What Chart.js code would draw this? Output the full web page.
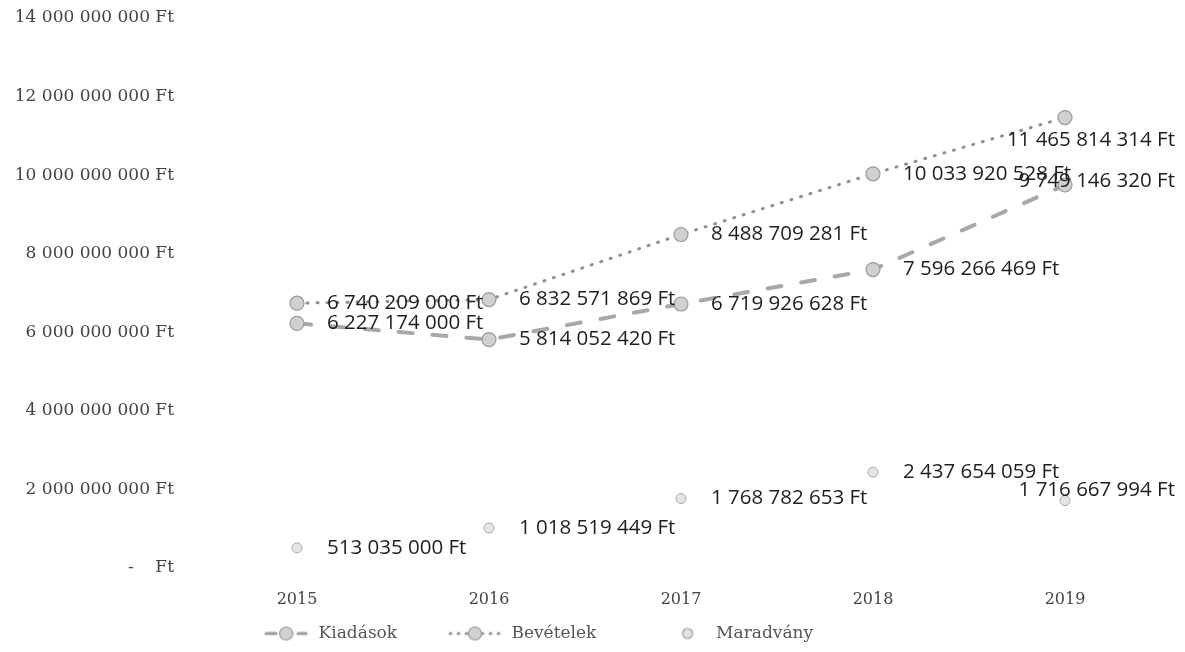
<!DOCTYPE html>
<html>
<head>
<meta charset="utf-8">
<script src="https://cdn.jsdelivr.net/npm/chart.js@4"></script>
<style>
  html, body { margin: 0; padding: 0; background: #fff; }
  #wrap { width: 1185px; height: 652px; }
</style>
</head>
<body>
<div id="wrap"><canvas id="myChart"></canvas></div>
<script>
// Years on the x axis
const years = ['2015', '2016', '2017', '2018', '2019'];

// Series values (Ft)
const kiadasok = [6227174000, 5814052420, 6719926628, 7596266469, 9749146320];
const bevetelek = [6740209000, 6832571869, 8488709281, 10033920528, 11465814314];
const maradvany = [513035000, 1018519449, 1768782653, 2437654059, 1716667994];

// Y axis ticks
const yTicks = [0, 2000000000, 4000000000, 6000000000, 8000000000, 10000000000, 12000000000, 14000000000];

// Format a number with space as thousands separator
function formatFt(v) {
    if (v === 0) return '-    Ft';
    return String(Math.round(v)).replace(/\B(?=(\d{3})+(?!\d))/g, ' ') + ' Ft';
}

// Small canvases used as legend symbols
function legendSymbol(kind) {
    const c = document.createElement('canvas');
    c.width = 56;
    c.height = 16;
    const g = c.getContext('2d');
    const mid = c.width / 2;
    g.strokeStyle = '#999';
    g.lineWidth = 3;
    g.lineCap = 'round';
    if (kind === 'dash') {
        g.setLineDash([10, 6]);
        g.beginPath(); g.moveTo(12, 8); g.lineTo(c.width - 4, 8); g.stroke();
    } else if (kind === 'dots') {
        g.setLineDash([1, 7]);
        g.beginPath(); g.moveTo(3, 8); g.lineTo(c.width - 2, 8); g.stroke();
    }
    g.setLineDash([]);
    g.lineWidth = 1.2;
    g.fillStyle = kind === 'dot' ? '#e2e2e2' : '#d2d2d2';
    g.strokeStyle = '#999';
    const cx = kind === 'dash' ? 32 : (kind === 'dot' ? mid + 8 : mid);
    g.beginPath(); g.arc(cx, 8, kind === 'dot' ? 5 : 6.5, 0, Math.PI * 2); g.fill(); g.stroke();
    return c;
}

// Value labels to the right of every point
const valueLabels = {
    id: 'valueLabels',
    afterDatasetsDraw(chart, args, opts) {
        const ctx = chart.ctx;
        ctx.save();
        ctx.font = opts.font;
        ctx.fillStyle = opts.color;
        ctx.textBaseline = 'middle';
        chart.data.datasets.forEach((ds, i) => {
            const meta = chart.getDatasetMeta(i);
            meta.data.forEach((pt, j) => {
                const text = formatFt(ds.data[j]);
                const w = ctx.measureText(text).width;
                let x = pt.x + opts.offsetX;
                let y = pt.y;
                if (x + w > chart.width - opts.edge) {
                    x = chart.width - opts.edge - w;
                    y += opts.edgeNudge[i];
                }
                ctx.fillText(text, x, y);
            });
        });
        ctx.restore();
    }
};

// Move the legend a little to the left, as in the original
const legendShift = {
    id: 'legendShift',
    afterLayout(chart, args, opts) {
        if (chart.legend) {
            chart.legend.left -= opts.dx;
            chart.legend.right -= opts.dx;
        }
    }
};

const serif = "'DejaVu Serif', serif";

const myChart = document.getElementById('myChart');

let lineChart = new Chart(myChart, {
    type: 'line',
    data: {
        labels: years,
        datasets: [{
            label: 'Kiadások',
            data: kiadasok,
            borderColor: '#a8a8a8',
            borderWidth: 4,
            borderDash: [14, 20],
            borderCapStyle: 'round',
            pointRadius: 7,
            pointBackgroundColor: '#d0d0d0',
            pointBorderColor: '#9a9a9a',
            pointBorderWidth: 1.2,
            tension: 0
        }, {
            label: 'Bevételek',
            data: bevetelek,
            borderColor: '#8f8f8f',
            borderWidth: 3,
            borderDash: [1, 9],
            borderCapStyle: 'round',
            pointRadius: 7,
            pointBackgroundColor: '#d0d0d0',
            pointBorderColor: '#9a9a9a',
            pointBorderWidth: 1.2,
            tension: 0
        }, {
            label: 'Maradvány',
            data: maradvany,
            showLine: false,
            pointRadius: 5,
            pointBackgroundColor: '#e4e4e4',
            pointBorderColor: '#aaaaaa',
            pointBorderWidth: 1
        }]
    },
    options: {
        responsive: true,
        maintainAspectRatio: false,
        animation: false,
        layout: {
            padding: { top: 0, right: 24, left: 0, bottom: 0 }
        },
        scales: {
            x: {
                offset: true,
                grid: { display: false, drawTicks: false, tickLength: 0 },
                border: { display: false },
                afterFit: axis => {
                    axis.height = 45;
                },
                ticks: {
                    color: '#444',
                    padding: 22,
                    font: { family: serif, size: 16 }
                }
            },
            y: {
                min: 0,
                max: 14000000000,
                grid: { display: false, drawTicks: false, tickLength: 0 },
                border: { display: false },
                afterBuildTicks: axis => {
                    axis.ticks = yTicks.map(v => ({ value: v }));
                },
                afterFit: axis => {
                    axis.width = 201;
                    axis.paddingTop = 18;
                },
                ticks: {
                    color: '#444',
                    padding: 27,
                    font: { family: serif, size: 17 },
                    callback: v => formatFt(v)
                }
            }
        },
        plugins: {
            legend: {
                position: 'bottom',
                labels: {
                    color: '#555',
                    usePointStyle: true,
                    pointStyleWidth: 56,
                    padding: 12,
                    font: { family: serif, size: 17 },
                    generateLabels: chart => chart.data.datasets.map((ds, i) => ({
                        text: ds.label + (i === 1 ? '        ' : '       '),
                        fontColor: '#555',
                        pointStyle: legendSymbol(['dash', 'dots', 'dot'][i]),
                        datasetIndex: i,
                        hidden: false,
                        lineWidth: 0
                    }))
                }
            },
            legendShift: { dx: 28 },
            tooltip: { enabled: false },
            valueLabels: {
                font: "20.5px 'Open Sans', sans-serif",
                color: '#1e1e1e',
                offsetX: 30,
                edge: 10,
                edgeNudge: [-4, 23, -10]
            }
        }
    },
    plugins: [valueLabels, legendShift]
});
</script>
</body>
</html>
